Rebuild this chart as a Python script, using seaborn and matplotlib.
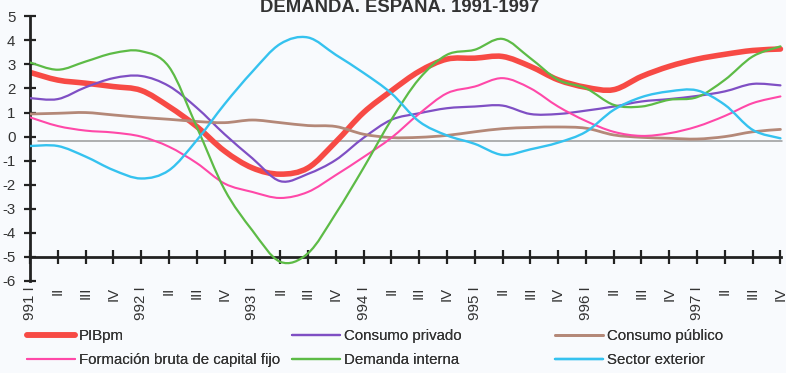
import matplotlib
matplotlib.use("Agg")
import matplotlib.pyplot as plt
from matplotlib.path import Path
from matplotlib.patches import PathPatch
from matplotlib.lines import Line2D
import seaborn as sns
import pandas as pd
import numpy as np

# Quarterly growth rates, 1991 I - 1997 IV
quarters = ["991 I", "II", "III", "IV",
            "992 I", "II", "III", "IV",
            "993 I", "II", "III", "IV",
            "994 I", "II", "III", "IV",
            "995 I", "II", "III", "IV",
            "996 I", "II", "III", "IV",
            "997 I", "II", "III", "IV"]

pib = [2.67, 2.35, 2.22, 2.08, 1.92, 1.25, 0.42, -0.6, -1.3, -1.56, -1.3, -0.22,
       1.0, 1.9, 2.71, 3.22, 3.26, 3.33, 2.92, 2.36, 2.05, 1.95, 2.5, 2.92,
       3.22, 3.42, 3.58, 3.64]
consumo_privado = [1.6, 1.56, 2.05, 2.43, 2.52, 2.1, 1.2, 0.1, -0.9, -1.85, -1.55, -0.97,
                   -0.05, 0.7, 0.97, 1.18, 1.25, 1.29, 0.94, 0.94, 1.08, 1.25, 1.46, 1.56,
                   1.69, 1.88, 2.19, 2.13]
consumo_publico = [0.94, 0.97, 1.0, 0.9, 0.8, 0.72, 0.63, 0.58, 0.69, 0.58, 0.46, 0.42,
                   0.1, -0.04, -0.03, 0.05, 0.2, 0.33, 0.38, 0.4, 0.35, 0.07, -0.03, -0.07,
                   -0.1, 0.0, 0.2, 0.3]
fbcf = [0.8, 0.44, 0.25, 0.17, 0.0, -0.42, -1.1, -1.95, -2.3, -2.55, -2.3, -1.6,
        -0.85, -0.05, 0.95, 1.8, 2.08, 2.43, 2.01, 1.25, 0.65, 0.2, 0.03, 0.14,
        0.42, 0.86, 1.39, 1.67]
demanda_interna = [3.08, 2.78, 3.12, 3.47, 3.55, 2.9, 0.4, -2.2, -3.9, -5.2, -4.85, -3.2,
                   -1.3, 0.7, 2.4, 3.4, 3.61, 4.06, 3.26, 2.36, 2.01, 1.32, 1.25, 1.53,
                   1.64, 2.36, 3.33, 3.75]
sector_exterior = [-0.39, -0.39, -0.83, -1.39, -1.74, -1.4, -0.15, 1.35, 2.7, 3.85, 4.12, 3.4,
                   2.65, 1.8, 0.63, 0.05, -0.3, -0.76, -0.53, -0.25, 0.2, 1.11, 1.64, 1.88,
                   1.92, 1.32, 0.28, -0.07]

series_names = ["PIBpm", "Consumo privado", "Consumo público",
                "Formación bruta de capital fijo", "Demanda interna", "Sector exterior"]
series_values = [pib, consumo_privado, consumo_publico, fbcf, demanda_interna, sector_exterior]
colors = ["#f74a45", "#7f4fc4", "#b48878", "#ff48a8", "#5dbb46", "#35c2ef"]
widths = [4.0, 1.6, 2.0, 1.5, 1.6, 1.7]

title = "DEMANDA. ESPAÑA. 1991-1997"
y_ticks = [-6, -5, -4, -3, -2, -1, 0, 1, 2, 3, 4, 5]
zero_line = -0.17


def smooth_path(xs, ys):
    """Cubic Bezier path through every point (smoothed-line style)."""
    pts = np.column_stack([xs, ys]).astype(float)
    n = len(pts)
    verts = [pts[0]]
    codes = [Path.MOVETO]
    for i in range(n - 1):
        p0 = pts[max(i - 1, 0)]
        p1 = pts[i]
        p2 = pts[i + 1]
        p3 = pts[min(i + 2, n - 1)]
        c1 = p1 + (p2 - p0) / 6.0
        c2 = p2 - (p3 - p1) / 6.0
        verts += [c1, c2, p2]
        codes += [Path.CURVE4] * 3
    return Path(verts, codes)


sns.set_theme(style="white")
plt.rcParams["font.family"] = ["Liberation Sans", "DejaVu Sans"]

bg = "#f8fafd"
fig = plt.figure(figsize=(7.86, 3.73), dpi=100, facecolor=bg)
W, H = 786, 373
ax = fig.add_axes([30 / W, (H - 281) / H, 756 / W, 264.7 / H])
ax.set_facecolor(bg)

x = np.arange(len(quarters))
frames = []
for name, vals in zip(series_names, series_values):
    frames.append(pd.DataFrame({"q": x, "v": vals, "serie": name}))
df = pd.concat(frames, ignore_index=True)

# reference line near zero, drawn beneath the series
ax.axhline(zero_line, xmin=0.3 / 27.2, xmax=27.05 / 27.2, color="#9a9a9a", lw=1.1, zorder=1)

handles = []
for name, col, lw in zip(series_names, colors, widths):
    sub = df[df["serie"] == name]
    sns.lineplot(data=sub, x="q", y="v", ax=ax, color=col, linewidth=lw, legend=False)
    line = ax.lines[-1]
    lx, ly = line.get_xdata(), line.get_ydata()
    # render the series as a smoothed curve through its points
    patch = PathPatch(smooth_path(lx, ly), facecolor="none", edgecolor=col, lw=lw,
                      capstyle="round", joinstyle="round",
                      zorder=2.5 if name == "PIBpm" else 3)
    ax.add_patch(patch)
    line.remove()
    handles.append(Line2D([], [], color=col, lw=lw))

ax.set_xlim(0, 27.2)
ax.set_ylim(-6, 5)
ax.set_xlabel("")
ax.set_ylabel("")

for s in ["top", "right"]:
    ax.spines[s].set_visible(False)
ax.spines["left"].set_color("#222222")
ax.spines["left"].set_linewidth(2.0)
ax.spines["bottom"].set_position(("data", -5))
ax.spines["bottom"].set_bounds(0, 27.02)
ax.spines["bottom"].set_color("#222222")
ax.spines["bottom"].set_linewidth(2.0)

ax.set_yticks(y_ticks)
ax.set_yticklabels([str(t) for t in y_ticks])
ax.set_xticks(x)
ax.set_xticklabels(quarters, rotation=90, va="top", ha="center")

ax.tick_params(axis="y", direction="inout", length=9, width=1.6, color="#222222",
               labelsize=10.8, labelcolor="#333333", pad=6, left=True)
ax.tick_params(axis="x", direction="inout", length=10, width=1.6, color="#222222",
               labelsize=10.8, labelcolor="#333333", pad=16.5, bottom=True)

fig.text(0.508, 1 - 12 / H, title, ha="center", va="baseline", fontsize=13.3,
         fontweight="bold", color="#333333")

# legend in three fixed-width columns
col_x = [27, 292, 555]
for c in range(3):
    hs = [handles[c], handles[c + 3]]
    labs = [series_names[c], series_names[c + 3]]
    leg = fig.legend(hs, labs, loc="upper left",
                     bbox_to_anchor=(col_x[c] / W, 1 - 329 / H),
                     frameon=False, fontsize=10.8, handlelength=3.2, handletextpad=0.28,
                     labelspacing=0.68, borderpad=0, borderaxespad=0,
                     labelcolor="#333333")
    fig.add_artist(leg)

fig.savefig("out.png", dpi=100, facecolor=bg)
